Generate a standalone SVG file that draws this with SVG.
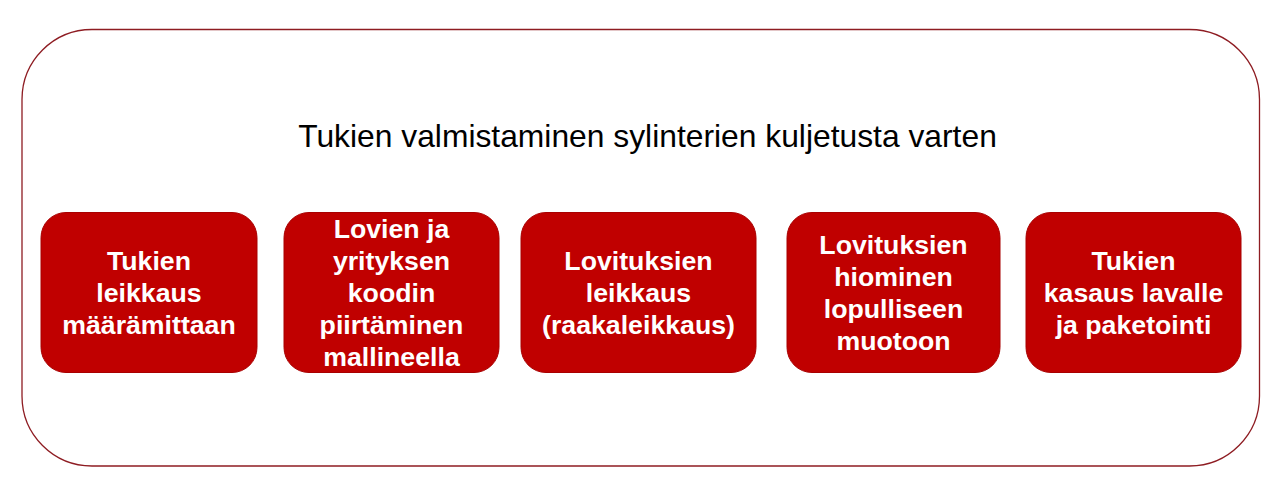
<svg xmlns="http://www.w3.org/2000/svg" width="1280" height="499" viewBox="0 0 1280 499">
<style>
.frame{fill:#FFFFFF;stroke:#8E1C22;stroke-width:1.3}
.box{fill:#C00000;stroke:#A80000;stroke-width:1}
.t{font-family:"Liberation Sans",Arial,sans-serif;font-weight:bold;font-size:26.7px;fill:#FFFFFF;text-anchor:middle}
.title{font-family:"Liberation Sans",Arial,sans-serif;font-size:31.8px;fill:#000000;text-anchor:middle}
</style>
<rect width="1280" height="499" fill="#FFFFFF"/>
<g id="frame">
<rect class="frame" x="22" y="29.5" width="1237.5" height="436.5" rx="70" ry="70"/>
<text class="title" x="647.5" y="146.5">Tukien valmistaminen sylinterien kuljetusta varten</text>
</g>
<g id="connectors"></g>
<g id="n1">
<rect class="box" x="41" y="212.5" width="216" height="160" rx="25" ry="25"/>
<text class="t" x="149" y="270">Tukien</text>
<text class="t" x="149" y="302">leikkaus</text>
<text class="t" x="149" y="334">määrämittaan</text>
</g>
<g id="n2">
<rect class="box" x="284" y="212.5" width="215" height="160" rx="25" ry="25"/>
<text class="t" x="391.5" y="238">Lovien ja</text>
<text class="t" x="391.5" y="270">yrityksen</text>
<text class="t" x="391.5" y="302">koodin</text>
<text class="t" x="391.5" y="334">piirtäminen</text>
<text class="t" x="391.5" y="366">mallineella</text>
</g>
<g id="n3">
<rect class="box" x="521" y="212.5" width="235" height="160" rx="25" ry="25"/>
<text class="t" x="638.5" y="270">Lovituksien</text>
<text class="t" x="638.5" y="302">leikkaus</text>
<text class="t" x="638.5" y="334">(raakaleikkaus)</text>
</g>
<g id="n4">
<rect class="box" x="787" y="212.5" width="213" height="160" rx="25" ry="25"/>
<text class="t" x="893.5" y="254">Lovituksien</text>
<text class="t" x="893.5" y="286">hiominen</text>
<text class="t" x="893.5" y="318">lopulliseen</text>
<text class="t" x="893.5" y="350">muotoon</text>
</g>
<g id="n5">
<rect class="box" x="1026" y="212.5" width="215" height="160" rx="25" ry="25"/>
<text class="t" x="1133.5" y="270">Tukien</text>
<text class="t" x="1133.5" y="302">kasaus lavalle</text>
<text class="t" x="1133.5" y="334">ja paketointi</text>
</g>
</svg>
